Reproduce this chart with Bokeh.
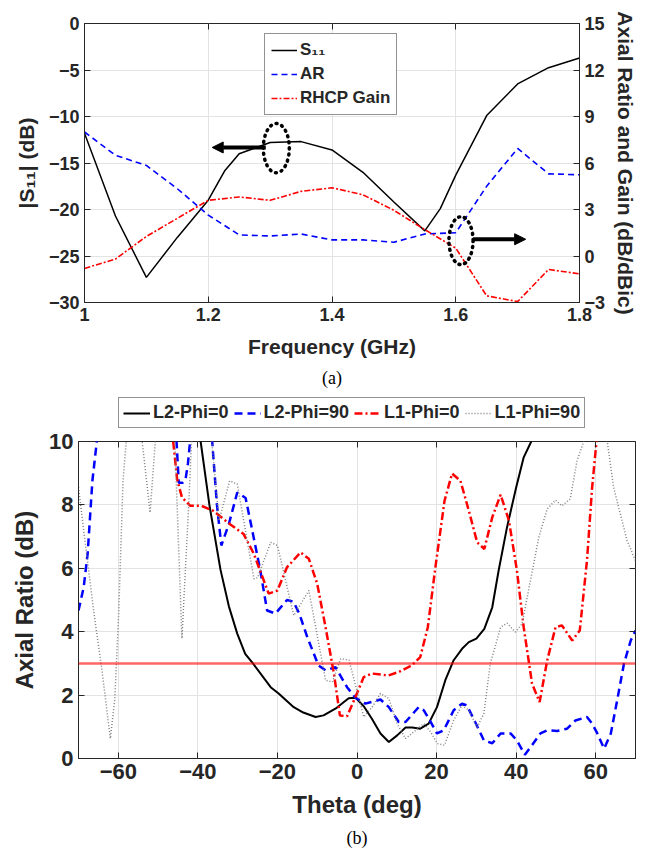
from bokeh.plotting import figure
from bokeh.models import (Range1d, LinearAxis, Legend, LegendItem, Arrow, NormalHead,
                          Title, FixedTicker, NumeralTickFormatter, CustomJSTickFormatter, Span)
from bokeh.embed import file_html
from bokeh.resources import INLINE

# ---------------- data: (a) ----------------
freq = [1.0, 1.05, 1.1, 1.15, 1.2, 1.25, 1.3, 1.35, 1.4, 1.45, 1.5, 1.55, 1.6, 1.65, 1.7, 1.75, 1.8]
s11_freq = [1.0, 1.05, 1.1, 1.15, 1.2, 1.227, 1.25, 1.3, 1.35, 1.4, 1.45, 1.5, 1.55, 1.575, 1.6, 1.65, 1.7, 1.75, 1.8]
s11 = [-11.8, -20.7, -27.3, -23.0, -19.0, -15.8, -14.0, -12.8, -12.7, -13.6, -16.0, -19.2, -22.3, -19.9, -16.3, -9.9, -6.5, -4.75, -3.7]
ar_freq = [8.0, 6.5, 5.84, 4.34, 2.64, 1.36, 1.29, 1.42, 1.04, 1.04, 0.89, 1.42, 1.5, 4.5, 6.94, 5.3, 5.24]
gain_freq = [-0.8, -0.2, 1.26, 2.43, 3.59, 3.81, 3.59, 4.17, 4.4, 3.95, 2.95, 1.7, 0.51, -2.57, -2.94, -0.87, -1.15]
left_ticks = [-30, -25, -20, -15, -10, -5, 0]
right_ticks = [-3, 0, 3, 6, 9, 12, 15]
freq_ticks = [1.0, 1.2, 1.4, 1.6, 1.8]

# annotation marks (ellipse centre x, y, width, height) and arrows (x0, x1, y)
ell_x = [1.31, 1.6085]
ell_y = [-13.4, -23.35]
ell_w = [0.042, 0.039]
ell_h = [5.3, 5.15]
arr_x0 = [1.293, 1.628]
arr_x1 = [1.2064, 1.713]
arr_y = [-13.33, -23.2]

# ---------------- data: (b) ----------------
th_l2_0 = [-41, -39.3, -37.1, -34.3, -32.2, -30.1, -28.1, -26.1, -21.7, -19.7, -15.9, -13.5, -10.4, -8.4, -5.1, -2.1, -0.4,
           1.7, 3.7, 5.9, 8.0, 10.1, 12.2, 13.9, 15.9, 18.0, 20.1, 22.2, 24.3, 26.4, 28.1, 30.0, 32.0, 34.0, 35.6, 37.7,
           40.0, 41.9, 43.8, 45.5]
ar_l2_0 = [11.5, 10.0, 8.0, 5.95, 4.8, 3.94, 3.3, 2.99, 2.25, 2.05, 1.62, 1.45, 1.31, 1.36, 1.6, 1.9, 1.92,
           1.65, 1.26, 0.79, 0.52, 0.73, 0.98, 0.98, 0.94, 1.1, 1.62, 2.47, 3.1, 3.46, 3.67, 3.78, 4.09, 4.77, 5.93, 7.29,
           8.55, 9.5, 10.0, 10.6]

th_l2_90 = [-70, -68.7, -67.7, -66.5, -65.4, -64.5, -46, -44.8, -43.8, -43.1, -42.5, -41.8, -41, -37.5, -36.4, -35.2,
            -34.1, -32.2, -30.1, -28.0, -26.5, -24.3, -22.6, -20.5, -17.6, -16.0, -14.5, -12.5, -9.7, -7.9, -5.4, -2.5,
            -0.4, 2.1, 5.9, 8.0, 10.5, 12.2, 15.5, 16.8, 18.3, 20.1, 21.8, 24.3, 26.4, 27.6, 29.7, 31.9, 34.0, 36.1,
            38.6, 40.2, 42.2, 44.0, 46.1, 47.8, 50.3, 52.8, 54.9, 57.8, 59.1, 60.4, 62.1, 63.8, 65.4, 67.1, 68.8, 70]
ar_l2_90 = [4.67, 5.4, 6.46, 8.77, 10.0, 11.5, 11.5, 8.7, 8.7, 8.8, 9.3, 10.2, 11.5, 11.5, 10.0, 8.0,
            6.72, 7.4, 8.39, 8.22, 7.3, 5.93, 4.67, 4.57, 5.0, 4.95, 4.57, 3.83, 2.94, 2.78, 2.88, 2.25,
            1.92, 1.73, 1.86, 1.62, 1.15, 1.15, 1.62, 1.52, 1.2, 0.79, 0.89, 1.52, 1.73, 1.68, 1.15, 0.57, 0.48, 0.79,
            0.79, 0.57, 0.12, 0.42, 0.79, 0.89, 0.87, 0.94, 1.2, 1.31, 1.1, 0.79, 0.31, 0.79, 1.84, 2.99, 3.72, 4.04]

th_l1_0 = [-47, -46.2, -45.2, -44.0, -41.9, -39.1, -36.2, -32.0, -28.5, -25.9, -22.2, -20.0, -17.6, -14.2, -12.1,
           -10.0, -7.9, -5.8, -4.3, -2.5, -0.4, 1.7, 3.8, 7.9, 10.5, 13.8, 15.9, 17.8, 19.7, 22.0, 23.9, 26.0, 28.1,
           30.2, 32.0, 34.0, 36.1, 38.2, 40.2, 41.9, 44.0, 45.9, 47.8, 49.9, 51.5, 54.1, 56.0, 57.8, 59.1, 60.2, 61]
ar_l1_0 = [11.0, 10.0, 8.8, 8.24, 7.97, 7.97, 7.82, 7.4, 7.08, 6.45, 5.2, 5.3, 6.03, 6.5, 6.3,
           5.51, 4.14, 2.68, 1.36, 1.33, 1.94, 2.57, 2.68, 2.62, 2.73, 2.94, 3.2, 4.14, 6.03, 8.13, 8.99, 8.76, 7.82,
           6.82, 6.61, 7.61, 8.32, 7.5, 5.93, 4.14, 2.36, 1.78, 3.09, 4.14, 4.2, 3.72, 4.04, 6.24, 8.55, 10.0, 11.5]

th_l1_90 = [-70, -68.7, -66.1, -64.1, -62.0, -60.9, -59.9, -58.8, -58.0, -57.5, -55, -54.0, -52.0, -50.7, -50,
            -46.5, -45.8, -44.0, -42.3, -41.6, -41, -37.2, -36.5, -34.7, -32.0, -30.1, -25.9, -25.0, -21.7, -20.0,
            -15.9, -12.1, -7.9, -6.2, -4.1, -2.0, 1.7, 3.8, 5.9, 8.0, 10.1, 12.2, 14.3, 16.8, 18.5, 20.2, 22.0, 24.3,
            26.4, 28.1, 30.2, 31.9, 33.5, 36.1, 37.7, 39.8, 41.5, 43.6, 45.7, 47.8, 49.9, 51.5, 53.6, 55.3, 57.0,
            57.8, 62.0, 62.9, 64.5, 67.9, 70]
ar_l1_90 = [8.56, 7.2, 4.57, 2.78, 0.63, 1.84, 4.57, 8.77, 10.0, 11.5, 11.5, 10.0, 7.76, 10.0, 11.5,
            11.5, 10.0, 3.78, 8.0, 10.0, 11.5, 11.5, 10.0, 7.5, 8.76, 8.66, 5.67, 5.7, 6.82, 6.72,
            4.51, 5.3, 2.47, 2.41, 3.15, 3.1, 1.31, 1.62, 2.05, 1.89, 1.1, 0.63, 0.84, 1.1, 0.84, 0.47, 0.42, 1.21,
            1.68, 1.52, 0.99, 1.42, 2.99, 4.14, 4.27, 3.99, 4.25, 5.61, 6.98, 7.87, 8.15, 7.97, 8.19, 9.39, 10.0,
            11.5, 11.5, 10.0, 8.55, 6.87, 6.24]
ar_limit = 3
theta_ticks = [-60, -40, -20, 0, 20, 40, 60]
ar_ticks = [0, 2, 4, 6, 8, 10]
series_b = ["L2-Phi=0", "L2-Phi=90", "L1-Phi=0", "L1-Phi=90"]
theta_b = [th_l2_0, th_l2_90, th_l1_0, th_l1_90]
values_b = [ar_l2_0, ar_l2_90, ar_l1_0, ar_l1_90]

FONT = "Liberation Sans"
TXT = "#262626"
GRID = "#e3e3e3"

STY_B = [dict(line_color="black", line_width=2),
         dict(line_color="#0000ff", line_width=2.5, line_dash="8 5"),
         dict(line_color="#ff0000", line_width=2.5, line_dash="8 3 2 3"),
         dict(line_color="#808080", line_width=1.5, line_dash="1 2")]


def style_axis(ax, tick_size, label_size):
    ax.major_label_text_font = FONT
    ax.major_label_text_font_style = "bold"
    ax.major_label_text_font_size = tick_size
    ax.major_label_text_color = TXT
    ax.axis_label_text_font = FONT
    ax.axis_label_text_font_style = "bold"
    ax.axis_label_text_font_size = label_size
    ax.axis_label_text_color = TXT
    ax.major_tick_in = 6
    ax.major_tick_out = 0
    ax.minor_tick_line_color = None
    ax.axis_line_color = TXT
    ax.major_tick_line_color = TXT


def blank_axis(ticks, **kw):
    ax = LinearAxis(ticker=FixedTicker(ticks=ticks),
                    formatter=CustomJSTickFormatter(code="return ''"), **kw)
    ax.major_tick_in = 6
    ax.major_tick_out = 0
    ax.minor_tick_line_color = None
    ax.major_label_text_font_size = "0px"
    ax.major_label_standoff = 0
    ax.axis_line_color = None
    ax.major_tick_line_color = TXT
    return ax


def style_legend(leg, size, gw, gh):
    leg.label_text_font = FONT
    leg.label_text_font_style = "bold"
    leg.label_text_font_size = size
    leg.label_text_color = TXT
    leg.glyph_width = gw
    leg.glyph_height = gh
    leg.label_height = gh
    leg.label_standoff = 3
    leg.margin = 0
    leg.border_line_color = TXT
    leg.border_line_width = 1
    leg.background_fill_color = "white"
    leg.background_fill_alpha = 1.0


# ================= figure (a) =================
p1 = figure(width=651, height=392, x_range=Range1d(1.0, 1.8), y_range=Range1d(-30, 0),
            output_backend="svg", toolbar_location=None,
            min_border_left=84, min_border_right=72, min_border_top=23, min_border_bottom=87)
p1.extra_y_ranges = {"r": Range1d(-3, 15)}
p1.outline_line_color = TXT
p1.outline_line_alpha = 1.0

p1.xaxis.ticker = FixedTicker(ticks=freq_ticks)
p1.xaxis.formatter = NumeralTickFormatter(format="0.[0]")
p1.xaxis.axis_label = "Frequency (GHz)"
p1.yaxis.ticker = FixedTicker(ticks=left_ticks)
p1.yaxis.axis_label = "|S\u2081\u2081| (dB)"
style_axis(p1.xaxis[0], "18px", "21px")
style_axis(p1.yaxis[0], "18px", "21px")
p1.xaxis.axis_label_standoff = 11
p1.yaxis.axis_label_standoff = 8

rax = LinearAxis(y_range_name="r", ticker=FixedTicker(ticks=right_ticks),
                 axis_label="Axial Ratio and Gain (dB/dBic)")
style_axis(rax, "18px", "21px")
rax.axis_label_standoff = 6
p1.add_layout(rax, "right")
p1.add_layout(blank_axis(freq_ticks), "above")

p1.xgrid.ticker = FixedTicker(ticks=freq_ticks)
p1.ygrid.ticker = FixedTicker(ticks=left_ticks)
p1.grid.grid_line_color = GRID
p1.grid.grid_line_width = 1

r_s11 = p1.line(s11_freq, s11, line_color="black", line_width=1.5)
r_ar = p1.line(freq, ar_freq, line_color="#0000ff", line_width=1.6, line_dash="6 4", y_range_name="r")
r_gain = p1.line(freq, gain_freq, line_color="#ff0000", line_width=1.6, line_dash="6 2 2 2", y_range_name="r")

p1.ellipse(x=ell_x, y=ell_y, width=ell_w, height=ell_h, fill_color=None,
           line_color="black", line_width=3.5, line_dash="1 5", line_cap="round")
for x0, x1, yy in zip(arr_x0, arr_x1, arr_y):
    p1.add_layout(Arrow(end=NormalHead(size=11, fill_color="black", line_color="black"),
                        x_start=x0, y_start=yy, x_end=x1, y_end=yy,
                        line_color="black", line_width=4))

leg1 = Legend(items=[LegendItem(label="S\u2081\u2081", renderers=[r_s11]),
                     LegendItem(label="AR", renderers=[r_ar]),
                     LegendItem(label="RHCP Gain", renderers=[r_gain])],
              location=(180, 187))
style_legend(leg1, "17px", 26, 20)
leg1.spacing = 4
leg1.padding = 6
p1.add_layout(leg1, "center")

p1.add_layout(Title(text="(a)", align="center", text_font="Liberation Serif",
                    text_font_style="normal", text_font_size="18px", text_color="black"), "below")

# ---- legend strip for (b): same series, x range kept away so only the legend shows ----
pl = figure(width=651, height=37, x_range=Range1d(1000, 1001), y_range=Range1d(0, 10),
            x_axis_type=None, y_axis_type=None, output_backend="svg", toolbar_location=None,
            min_border_left=0, min_border_right=0, min_border_top=0, min_border_bottom=0)
pl.outline_line_color = None
pl.grid.visible = False
leg_items = []
for name, xs, ys, sty in zip(series_b, theta_b, values_b, STY_B):
    rr = pl.line(xs, ys, **sty)
    leg_items.append(LegendItem(label=name, renderers=[rr]))
leg2 = Legend(items=leg_items, orientation="horizontal", location=(118, 1))
style_legend(leg2, "18px", 27, 18)
leg2.spacing = 5
leg2.padding = 4
pl.add_layout(leg2, "center")

# ================= figure (b) =================
p2 = figure(width=651, height=852 - 392 - 37, x_range=Range1d(-70, 70), y_range=Range1d(0, 10),
            output_backend="svg", toolbar_location=None,
            min_border_left=78, min_border_right=16, min_border_top=12, min_border_bottom=94)
p2.outline_line_color = TXT
p2.outline_line_alpha = 1.0

p2.xaxis.ticker = FixedTicker(ticks=theta_ticks)
p2.xaxis.axis_label = "Theta (deg)"
p2.yaxis.ticker = FixedTicker(ticks=ar_ticks)
p2.yaxis.axis_label = "Axial Ratio (dB)"
style_axis(p2.xaxis[0], "22px", "24px")
style_axis(p2.yaxis[0], "22px", "24px")
p2.xaxis.axis_label_standoff = 9
p2.yaxis.axis_label_standoff = 8
p2.add_layout(blank_axis(ar_ticks), "right")
p2.add_layout(blank_axis(theta_ticks), "above")

p2.xgrid.ticker = FixedTicker(ticks=theta_ticks)
p2.ygrid.ticker = FixedTicker(ticks=ar_ticks)
p2.grid.grid_line_color = GRID
p2.grid.grid_line_width = 1

p2.add_layout(Span(location=ar_limit, dimension="width", line_color="#ff0000",
                   line_alpha=0.6, line_width=2.5))

for xs, ys, sty in zip(theta_b, values_b, STY_B):
    p2.line(xs, ys, **sty)

p2.add_layout(Title(text="(b)", align="center", text_font="Liberation Serif",
                    text_font_style="normal", text_font_size="18px", text_color="black"), "below")

open("out.html", "w").write(file_html([p1, pl, p2], INLINE))
